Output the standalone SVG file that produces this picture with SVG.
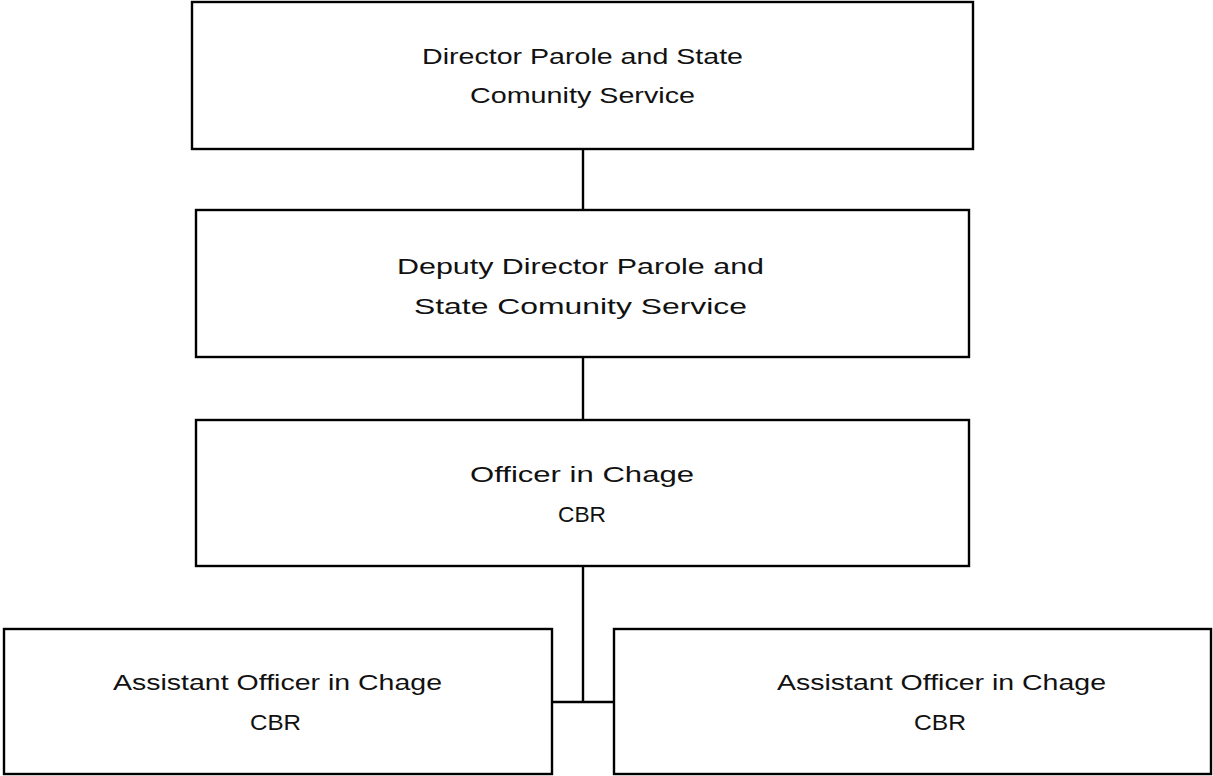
<svg xmlns="http://www.w3.org/2000/svg" width="1213" height="776" viewBox="0 0 1213 776">
  <style>
    .box { fill: #ffffff; stroke: #000000; stroke-width: 2.4; }
    .link { fill: none; stroke: #000000; stroke-width: 2.4; }
    .label { font-family: "Liberation Sans", Arial, sans-serif; font-size: 22.5px; fill: #111111; text-anchor: middle; }
  </style>
  <rect width="1213" height="776" fill="#ffffff"/>

  <!-- connectors -->
  <g id="connectors">
    <line class="link" x1="583" y1="149" x2="583" y2="210"/>
    <line class="link" x1="583" y1="357" x2="583" y2="420"/>
    <line class="link" x1="583" y1="566" x2="583" y2="702"/>
    <line class="link" x1="552" y1="702" x2="614" y2="702"/>
  </g>

  <g id="director">
    <rect class="box" x="192" y="2" width="781" height="147"/>
    <text class="label" x="582.5" y="63.5" textLength="321" lengthAdjust="spacingAndGlyphs">Director Parole and State</text>
    <text class="label" x="582.5" y="102.5" textLength="225" lengthAdjust="spacingAndGlyphs">Comunity Service</text>
  </g>

  <g id="deputy-director">
    <rect class="box" x="196" y="210" width="773" height="147"/>
    <text class="label" x="580.5" y="273.5" textLength="367" lengthAdjust="spacingAndGlyphs">Deputy Director  Parole and</text>
    <text class="label" x="580.5" y="313.5" textLength="333" lengthAdjust="spacingAndGlyphs">State Comunity Service</text>
  </g>

  <g id="officer-in-charge">
    <rect class="box" x="196" y="420" width="773" height="146"/>
    <text class="label" x="582" y="481.5" textLength="224" lengthAdjust="spacingAndGlyphs">Officer in Chage</text>
    <text class="label" x="582" y="521.5" textLength="48" lengthAdjust="spacingAndGlyphs">CBR</text>
  </g>

  <g id="assistant-left">
    <rect class="box" x="4" y="629" width="548" height="145"/>
    <text class="label" x="277.5" y="689.5" textLength="329" lengthAdjust="spacingAndGlyphs">Assistant Officer in Chage</text>
    <text class="label" x="275.5" y="729.5" textLength="51" lengthAdjust="spacingAndGlyphs">CBR</text>
  </g>

  <g id="assistant-right">
    <rect class="box" x="614" y="629" width="597" height="145"/>
    <text class="label" x="941.5" y="689.5" textLength="329" lengthAdjust="spacingAndGlyphs">Assistant Officer in Chage</text>
    <text class="label" x="940" y="729.5" textLength="52" lengthAdjust="spacingAndGlyphs">CBR</text>
  </g>
</svg>
